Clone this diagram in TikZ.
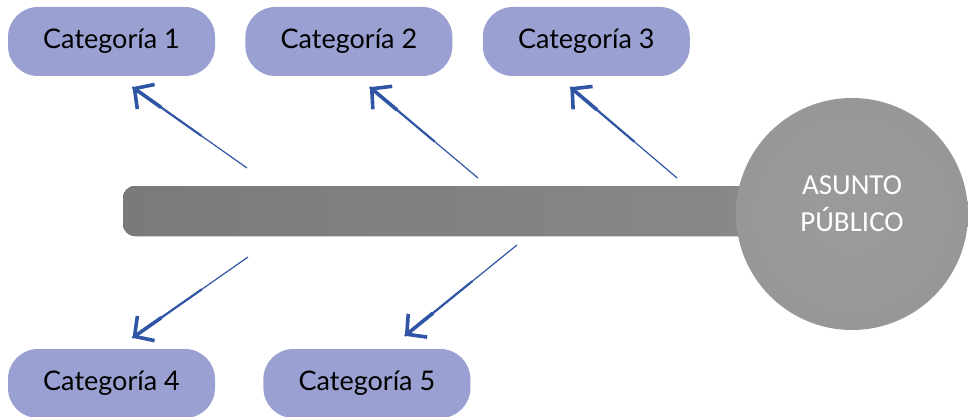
\documentclass[tikz,border=0pt]{standalone}
\usepackage{fontspec}
\setmainfont{Lato}
\newfontfamily\titlefont{Carlito}
\usetikzlibrary{positioning}
\usetikzlibrary{arrows.meta}

\definecolor{catfill}{HTML}{9AA0D2}
\definecolor{arrowblue}{HTML}{2F55A4}
\definecolor{spinedark}{HTML}{7A7A7A}
\definecolor{spinelight}{HTML}{898989}
\definecolor{headdark}{HTML}{7A7A7A}
\definecolor{headlight}{HTML}{9B9B9B}
\pgfdeclareradialshading{headshade}{\pgfpoint{0bp}{0bp}}{color(0bp)=(headlight); color(30bp)=(headlight!85!headdark); color(50bp)=(headdark); color(100bp)=(headdark)}

\tikzset{
	catbox/.style={fill=catfill, rounded corners=30pt, minimum width=207pt, minimum height=69pt, font=\fontsize{27}{32}\selectfont},
	catarrow/.style={draw=arrowblue, line width=1.2pt},
	cattip/.style={draw=arrowblue, line width=3.6pt, -{Straight Barb[length=14pt,width=30pt,line width=3.6pt 0]}}
}

\begin{document}
\begin{tikzpicture}[x=1pt, y=-1pt]
		\useasboundingbox (0,0) rectangle (968,417);
		% spine and head
		\fill[left color=spinedark, right color=spinelight, rounded corners=12pt] (123,186) rectangle (790,236);
		\node[circle, minimum size=232pt, shading=headshade, text=white, align=center, text depth=20pt, font=\titlefont\fontsize{29}{37}\selectfont] (issue) at (852,214) {ASUNTO\\PÚBLICO};
		% categories
		\node[catbox] (c1) at (111.5,41.5) {Categoría 1};
		\node[catbox, right=30pt of c1] (c2) {Categoría 2};
		\node[catbox, right=30pt of c2] (c3) {Categoría 3};
		\node[catbox] (c4) at (111.5,383.5) {Categoría 4};
		\node[catbox, right=48pt of c4] (c5) {Categoría 5};
		% arrow ends
		\coordinate (t1) at (247,168);
		\coordinate (t2) at (478,178);
		\coordinate (t3) at (677,178);
		\coordinate (t4) at (248,257);
		\coordinate (t5) at (517,245);
		\coordinate[below=11pt of c1.south, xshift=21pt] (h1);
		\coordinate[below=11pt of c2.south, xshift=21pt] (h2);
		\coordinate[below=11pt of c3.south, xshift=-16pt] (h3);
		\coordinate[above=11pt of c4.north, xshift=21pt] (h4);
		\coordinate[above=13pt of c5.north, xshift=38pt] (h5);
		\foreach \i in {1,...,5} {
			\path (t\i) -- (h\i) coordinate[pos=0.4] (m\i) coordinate[pos=0.75] (n\i);
			\draw[catarrow] (t\i) -- (h\i);
			\draw[catarrow, line width=2.2pt] (m\i) -- (h\i);
			\draw[cattip] (n\i) -- (h\i);
		}
	\end{tikzpicture}
\end{document}
